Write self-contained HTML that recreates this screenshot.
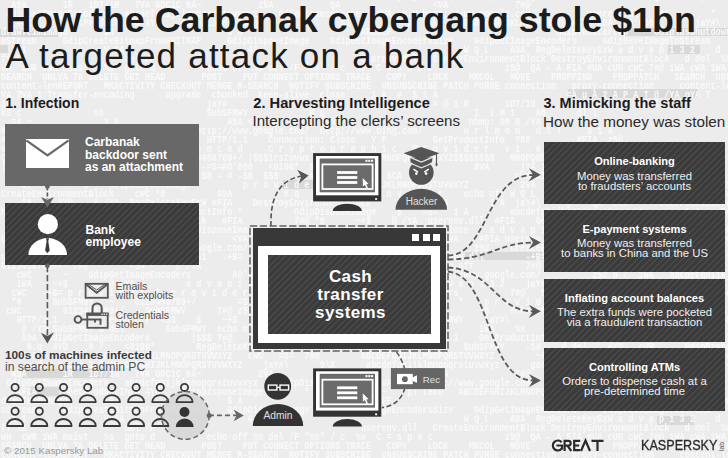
<!DOCTYPE html>
<html><head><meta charset="utf-8">
<style>
*{margin:0;padding:0;box-sizing:border-box}
html,body{width:728px;height:458px;overflow:hidden}
body{position:relative;background:#ececec;font-family:"Liberation Sans",sans-serif;color:#1c1c1c}
.t{position:absolute;white-space:nowrap;line-height:1}
.b{font-weight:bold}
.box{position:absolute}
.mid{background:#686868}
.dark{background-color:#3b3b3b;background-image:repeating-linear-gradient(135deg,#3b3b3b 0,#3b3b3b 3.3px,#494949 3.3px,#494949 4.6px)}
.w{color:#fff}
.c{text-align:center}
#bg{position:absolute;left:0.5px;top:-8.5px;width:1000px;height:480px;font-family:"Liberation Mono",monospace;font-size:10.5px;line-height:9px;color:#f9f9f9;font-weight:bold;white-space:pre;overflow:hidden;transform-origin:0 0;transform:scaleX(0.8159);filter:blur(0.35px)}
svg{position:absolute;left:0;top:0}
</style></head><body>
<div style="position:absolute;left:0px;top:29px;width:59px;height:7.5px;background:#d9d9d9"></div><div style="position:absolute;left:625px;top:28px;width:103px;height:8px;background:#d9d9d9"></div><div style="position:absolute;left:668px;top:44.5px;width:32px;height:9px;background:#d9d9d9"></div><div style="position:absolute;left:0px;top:44.5px;width:8px;height:8px;background:#d9d9d9"></div><div style="position:absolute;left:568px;top:88.5px;width:130px;height:9px;background:#d9d9d9"></div><div style="position:absolute;left:22px;top:369px;width:90px;height:9px;background:#d9d9d9"></div><div style="position:absolute;left:29px;top:387px;width:30px;height:9px;background:#d9d9d9"></div><div style="position:absolute;left:465px;top:252px;width:77px;height:8px;background:#d9d9d9"></div><div style="position:absolute;left:283px;top:180px;width:32px;height:9px;background:#d9d9d9"></div><div style="position:absolute;left:657px;top:416px;width:37px;height:9px;background:#d9d9d9"></div><div id="bg">     a d v a p i 3 2 ABCDEFGHIJKLMNOPQRSTUVWXYZ    jaY#\      9\X      abcdefghijklmnopqrstuvwxyz      goto d    AO&#x27;066  %s  RegDeleteKeyExW +S3      
  A9A       1R   1D7/1H   7VA GDC1C 8A~           2VA           QA                  &lt;VA             7#@                                               
 GdipGetImageEncoders   abcdefghijklmnopqrstuvwxyz    GdipDisposeImage   &lt;VA  8.q http;//www.google.com/          userenv.dll  A9A        *        got
   #FIA      GetProductInfo 4YU    GdipDisposeImage        *      $1      ~    pl tako   ABCDEFGHIJKLMNOPQRSTUVWXYZ A9A  AO&#x27;066        jaY#\    goto d
drawTe1mImagd       1R                      $ A                       ABCDEF                                GdiplusStartup     GdiplusShutdown        
oStream     GdipCreateBitmapFromHBITMAP     GdipDisposeImage    GdipGetImageEncodersSize    GdipGetImageEncoders     GdipSaveImageToStream            
  1 i               V 1A                        4A                                        W Q L    A9A  RegDeleteKeyExW a d v a p i 3 2    d l        
ff %s                   del /F                                        userenv.dll   CreateEnvironmentBlock DestroyEnvironmentBlock   d del  %s        
WH  cWR 1WA msist   %s  goto d          echo off %s del /F &quot;%s&quot; / c  %s  C = s p e c              z5@  QA - A FIA #UA cUR cWC 7#@ 1WA cWA 1WA         
SEARCH  UNLVA 7A DELETE GET HEAD       POST    PUT CONNECT OPTIONS TRACE   COPY    LOCK    MKCOL   MOVE    PROPFIND    PROPPATCH   SEARCH  UNLOCK     
content-lenREPORT   MKACTIVITY CHECKOUT MERGE M-SEARCH  NOTIFY SUBSCRIBE  UNSUBSCRIBE PATCH PURGE connection   proxy-connection     content-length    
VA 7VA 1 Transfer-encoding      upgrade  chunked  keep-alive  close     1 A  #  $ 1 A                         =A u A 2 A P A T @ /YA gYA T            
1R        $ #                           jaY#                          7#@           # @ 1 R       1D7/1H      ?A            1A $                      
kS c              #8                    SubSFMWY            8.q                             I  1 M 1    A8      dl l                                  
  =A ~              1 A                     A9A &lt;VA           2VA                          nbmo: 08 R /YA               1  0A                         
8 h  1  $     A&amp;  =A                  http;//www.google.com/  http;//www.bing.com/        u r l m o n   d l l     $ 1 A                               
# 2  5          $  8                    HTTP/1.1    Connection: Close   Y P         GetProductInfo  ?88         #FIA  z5@                             
0 4  t u                              e n c e d     C r y p t o g r a p h i c   P r o v i d e r   v 1 . 0                                             
QA - A            2VA              0123456789+/ |$$$1rstuvwx  ABCDEFGHIJKLMNOPQRSTUVWXYZ$$$$$$$$   MNOPQRSTUVWXYZ$$$$$$$$$$$$                         
|:8 V                                  -=S=AO&#x27;066   &lt;0100*  B A ~               HB~+        8VA      jYA 1A                                           
  1 *                                  $8 - # -$8  $$8      #FIA        J0 6CA                      cWdIUII\JIX                                       
   -S#          $    GdipDisposeImage          p r o v i d e r   ABCDEFGHIJKLMNOPQRSTUVWXYZ          2VA   0123456789+/ pl tako        $   |$$$ ~+$   
CreateEnvironmentBlock    cWC *8          A9A          8.q    d del    p r o v i d e r    echo off W Q L  *    1 A  8 /    A9A    goto d    RegDeleteK
    *8  ~  4YU    @ /YA  RegDeleteKeyExW #FIA    DestroyEnvironmentBlock          @ /YA        1 A  jaY#\    *8    QA  2VA      GetProductInfo        
http;//www.google.com/    8 /  GetProductInfo *          GdipDisposeImage    $    =S=   1 A        abcdefghijklmnopqrstuvwxyz        1 A    GetProduct
    2VA #FIA   ~  CreateEnvironmentBlock   #FIA          7#@ *8      ~+$    @ /YA  userenv.dll  #FIA    GetProductInfo      $ K          http;//www.go
    http;//www.google.com/        GdipDisposeImage   2VA    9\X    =S=    Connection: Close    a d v a p i 3 2        %s  1 A ABCDEFGHIJKLMNOPQRSTUVWX
goto d    cWC        7#@        9\X          &lt;VA   =S=  http;//www.google.com/    %s  1WA    #FIA userenv.dll    1 A          cWC CreateEnvironmentBlo
  $ K   0123456789+/      http;//www.google.com/          QA   8.q RegDeleteKeyExW          z5@    CreateEnvironmentBlock pl tako  %s  =S=    A9A     
userenv.dll          SubSFMWY      $1 $1   -+B=      z5@  a d v a p i 3 2          userenv.dll        -+B= -S#          jaY#\ |$$$        @ /YA pl tak
0123456789+/  7#@        =S=      @ /YA          $          ~+$  d del 2VA  %s cUR  echo off          7#@ $ K    HTTP/1.1    d del   +S3      W Q L   
   cWC      ~    GdipGetImageEncoders        AO&#x27;066    #FIA        cUR      #FIA   http;//www.google.com/          z5@ 8 /  1WA   abcdefghijklmnopqrst
   1WA    ~+$        @ /YA          a d v a p i 3 2      8 /          A9A  ~+$ 1WA a d v a p i 3 2    jaY#\      2VA C r y p t o   ~          GdipGetI
  cWC   -+B= p r o v i d e r  $  p r o v i d e r      userenv.dll    GdipGetImageEncoders          7#@   8 / +S3          SubSFMWY GdipDisposeImage   
  *8      SubSFMWY   ~    0123456789+/        =S=        http;//www.google.com/          *    p r o v i d e r @ /YA      *      C r y p t o    ABCDEFG
 cWC        0123456789+/    SubSFMWY      7#@ z5@  CreateEnvironmentBlock          QA        *8    echo off #FIA  # GdipDisposeImage      a d v a p i 
   HTTP/1.1          echo off  +S3    $    ~+$   d del    2VA        4YU    2VA   SubSFMWY    jaY#\          GdipGetImageEncoders        SubSFMWY  got
    @ /YA SubSFMWY d del        SubSFMWY  echo off  &lt;0100*   userenv.dll          1 A        1WA    %s          http;//www.google.com/      #         
    A9A  GdipGetImageEncoders        |$$$ 7#@   &lt;0100* CreateEnvironmentBlock    HTTP/1.1    GetProductInfo    A9A      cWC          ABCDEFGHIJKLMNOPQ
     8.q  4YU    8 /    &lt;0100*        RegDeleteKeyExW        p r o v i d e r        9\X   SubSFMWY    -S#    d del    4YU   cUR      GdipDisposeImage 
    A9A    #FIA    ABCDEFGHIJKLMNOPQRSTUVWXYZ   cWC   =S=  7#@        ABCDEFGHIJKLMNOPQRSTUVWXYZ        ~+$        SubSFMWY   GdipGetImageEncoders    
     a d v a p i 3 2 ABCDEFGHIJKLMNOPQRSTUVWXYZ    jaY#\      9\X      abcdefghijklmnopqrstuvwxyz      goto d    AO&#x27;066  %s  RegDeleteKeyExW +S3      
  A9A       1R   1D7/1H   7VA GDC1C 8A~           2VA           QA                  &lt;VA             7#@                                               
 GdipGetImageEncoders   abcdefghijklmnopqrstuvwxyz    GdipDisposeImage   &lt;VA  8.q http;//www.google.com/          userenv.dll  A9A        *        got
   #FIA      GetProductInfo 4YU    GdipDisposeImage        *      $1      ~    pl tako   ABCDEFGHIJKLMNOPQRSTUVWXYZ A9A  AO&#x27;066        jaY#\    goto d
drawTe1mImagd       1R                      $ A                       ABCDEF                                GdiplusStartup     GdiplusShutdown        
oStream     GdipCreateBitmapFromHBITMAP     GdipDisposeImage    GdipGetImageEncodersSize    GdipGetImageEncoders     GdipSaveImageToStream            
  1 i               V 1A                        4A                                        W Q L    A9A  RegDeleteKeyExW a d v a p i 3 2    d l        
ff %s                   del /F                                        userenv.dll   CreateEnvironmentBlock DestroyEnvironmentBlock   d del  %s        
WH  cWR 1WA msist   %s  goto d          echo off %s del /F &quot;%s&quot; / c  %s  C = s p e c              z5@  QA - A FIA #UA cUR cWC 7#@ 1WA cWA 1WA         
SEARCH  UNLVA 7A DELETE GET HEAD       POST    PUT CONNECT OPTIONS TRACE   COPY    LOCK    MKCOL   MOVE    PROPFIND    PROPPATCH   SEARCH  UNLOCK     
content-lenREPORT   MKACTIVITY CHECKOUT MERGE M-SEARCH  NOTIFY SUBSCRIBE  UNSUBSCRIBE PATCH PURGE connection   proxy-connection     content-length    
VA 7VA 1 Transfer-encoding      upgrade  chunked  keep-alive  close     1 A  #  $ 1 A                         =A u A 2 A P A T @ /YA gYA T            </div>

<div class="t b" style="left:5.5px;top:3.3px;font-size:35.8px;color:#1c1c1c">How the Carbanak cybergang stole $1bn</div>
<div class="t" style="left:5.5px;top:38.1px;font-size:35px;letter-spacing:1.22px;color:#1c1c1c">A targeted attack on a bank</div>

<div class="t b" style="left:5.3px;top:96px;font-size:14px">1. Infection</div>
<div class="t b" style="left:253.3px;top:96.3px;font-size:14.65px">2. Harvesting Intelligence</div>
<div class="t" style="left:252.5px;top:113px;font-size:15.1px;color:#2a2a2a">Intercepting the clerks’ screens</div>
<div class="t b" style="left:543.5px;top:96px;font-size:14.5px">3. Mimicking the staff</div>
<div class="t" style="left:543px;top:114px;font-size:15.25px;color:#2a2a2a">How the money was stolen</div>

<div class="box mid" style="left:5px;top:124px;width:194px;height:62px"></div>
<div class="box dark" style="left:5px;top:203px;width:194px;height:62px"></div>

<div class="box dark" style="left:544px;top:142px;width:181px;height:62px"></div>
<div class="box dark" style="left:544px;top:210px;width:181px;height:62px"></div>
<div class="box dark" style="left:544px;top:279px;width:181px;height:63px"></div>
<div class="box dark" style="left:544px;top:348px;width:181px;height:63px"></div>

<div class="box" style="left:252.8px;top:227.8px;width:193.2px;height:120.8px;background:#383838"></div>
<div class="box" style="left:258.4px;top:245.6px;width:181.8px;height:97.4px;background:#fff"></div>
<div class="box dark" style="left:267.7px;top:254.8px;width:163.3px;height:79px"></div>
<div class="box" style="left:412px;top:234px;width:7px;height:6.5px;background:#fff"></div>
<div class="box" style="left:422.5px;top:234px;width:7px;height:6.5px;background:#fff"></div>
<div class="box" style="left:433px;top:234px;width:7px;height:6.5px;background:#fff"></div>

<svg width="728" height="458" viewBox="0 0 728 458"><rect x="26" y="139" width="43" height="29" fill="#fff"/><polyline points="26.3,140.3 47.5,155.3 68.7,140.3" fill="none" stroke="#686868" stroke-width="2.2"/><line x1="47.4" y1="186.6" x2="47.4" y2="199" stroke="#5a5a5a" stroke-width="1.6" stroke-dasharray="4 2"/><circle cx="47.4" cy="186.6" r="2.4" fill="#666"/><path d="M47.4,207.5 L41.1,197 L47.4,199.7 L53.9,197 Z" fill="#666"/><circle cx="47.85" cy="224.2" r="10.1" fill="#fff"/><path d="M28.4,255 A19.3,16.9 0 0 1 67,255 Z" fill="#fff"/><path d="M46.1,238.3 L49,238.3 L48.3,241.2 L49.7,250.4 L47.4,253.2 L45.1,250.4 L46.6,241.2 Z" fill="#3b3b3b"/><line x1="47.4" y1="266" x2="47.4" y2="336" stroke="#5a5a5a" stroke-width="1.6" stroke-dasharray="6.2 2.8"/><circle cx="47.4" cy="265.8" r="2.4" fill="#666"/><path d="M47.4,343.6 L40.9,332.7 L47.4,336 L54,332.2 Z" fill="#555"/><rect x="85.6" y="283.8" width="22.2" height="14" fill="none" stroke="#555" stroke-width="1.8"/><polyline points="85.8,284.2 96.7,292.8 107.6,284.2" fill="none" stroke="#555" stroke-width="1.8"/><polyline points="88,284 96.7,290 105.4,284" fill="none" stroke="#555" stroke-width="1"/><path d="M92.5,313 L92.5,308 A4.6,4.6 0 0 1 101.7,308 L101.7,313" fill="none" stroke="#555" stroke-width="2"/><rect x="87.3" y="313.6" width="20.4" height="14.2" fill="none" stroke="#555" stroke-width="1.8"/><rect x="86.4" y="312.7" width="22.2" height="3.2" fill="#555"/><rect x="101.2" y="313.6" width="1.5" height="1.4" fill="#ddd"/><rect x="103.5" y="313.6" width="1.5" height="1.4" fill="#ddd"/><rect x="105.8" y="313.6" width="1.5" height="1.4" fill="#ddd"/><circle cx="78" cy="319.5" r="3.4" fill="none" stroke="#555" stroke-width="1.9"/><line x1="81.3" y1="319.5" x2="101.5" y2="319.5" stroke="#555" stroke-width="1.9"/><line x1="100.5" y1="319.5" x2="100.5" y2="324.8" stroke="#555" stroke-width="1.9"/><line x1="95" y1="319.5" x2="95" y2="322.5" stroke="#555" stroke-width="1.9"/><circle cx="185.3" cy="415.4" r="23.9" fill="#d6d6d6" fill-opacity="0.85"/><circle cx="15.1" cy="387.4" r="3.6" fill="none" stroke="#3a3a3a" stroke-width="1.8"/><path d="M7.0,402.09999999999997 A8.1,7 0 0 1 23.2,402.09999999999997 Z" fill="none" stroke="#3a3a3a" stroke-width="1.8" stroke-linejoin="round"/><circle cx="39.3" cy="387.4" r="3.6" fill="none" stroke="#3a3a3a" stroke-width="1.8"/><path d="M31.199999999999996,402.09999999999997 A8.1,7 0 0 1 47.4,402.09999999999997 Z" fill="none" stroke="#3a3a3a" stroke-width="1.8" stroke-linejoin="round"/><circle cx="63.5" cy="387.4" r="3.6" fill="none" stroke="#3a3a3a" stroke-width="1.8"/><path d="M55.4,402.09999999999997 A8.1,7 0 0 1 71.6,402.09999999999997 Z" fill="none" stroke="#3a3a3a" stroke-width="1.8" stroke-linejoin="round"/><circle cx="87.7" cy="387.4" r="3.6" fill="none" stroke="#3a3a3a" stroke-width="1.8"/><path d="M79.60000000000001,402.09999999999997 A8.1,7 0 0 1 95.8,402.09999999999997 Z" fill="none" stroke="#3a3a3a" stroke-width="1.8" stroke-linejoin="round"/><circle cx="111.9" cy="387.4" r="3.6" fill="none" stroke="#3a3a3a" stroke-width="1.8"/><path d="M103.80000000000001,402.09999999999997 A8.1,7 0 0 1 120.0,402.09999999999997 Z" fill="none" stroke="#3a3a3a" stroke-width="1.8" stroke-linejoin="round"/><circle cx="136.1" cy="387.4" r="3.6" fill="none" stroke="#3a3a3a" stroke-width="1.8"/><path d="M128.0,402.09999999999997 A8.1,7 0 0 1 144.2,402.09999999999997 Z" fill="none" stroke="#3a3a3a" stroke-width="1.8" stroke-linejoin="round"/><circle cx="160.3" cy="387.4" r="3.6" fill="none" stroke="#3a3a3a" stroke-width="1.8"/><path d="M152.20000000000002,402.09999999999997 A8.1,7 0 0 1 168.4,402.09999999999997 Z" fill="none" stroke="#3a3a3a" stroke-width="1.8" stroke-linejoin="round"/><circle cx="184.5" cy="387.4" r="3.6" fill="none" stroke="#3a3a3a" stroke-width="1.8"/><path d="M176.4,402.09999999999997 A8.1,7 0 0 1 192.6,402.09999999999997 Z" fill="none" stroke="#3a3a3a" stroke-width="1.8" stroke-linejoin="round"/><circle cx="15.1" cy="411.3" r="3.6" fill="none" stroke="#3a3a3a" stroke-width="1.8"/><path d="M7.0,426.0 A8.1,7 0 0 1 23.2,426.0 Z" fill="none" stroke="#3a3a3a" stroke-width="1.8" stroke-linejoin="round"/><circle cx="39.3" cy="411.3" r="3.6" fill="none" stroke="#3a3a3a" stroke-width="1.8"/><path d="M31.199999999999996,426.0 A8.1,7 0 0 1 47.4,426.0 Z" fill="none" stroke="#3a3a3a" stroke-width="1.8" stroke-linejoin="round"/><circle cx="63.5" cy="411.3" r="3.6" fill="none" stroke="#3a3a3a" stroke-width="1.8"/><path d="M55.4,426.0 A8.1,7 0 0 1 71.6,426.0 Z" fill="none" stroke="#3a3a3a" stroke-width="1.8" stroke-linejoin="round"/><circle cx="87.7" cy="411.3" r="3.6" fill="none" stroke="#3a3a3a" stroke-width="1.8"/><path d="M79.60000000000001,426.0 A8.1,7 0 0 1 95.8,426.0 Z" fill="none" stroke="#3a3a3a" stroke-width="1.8" stroke-linejoin="round"/><circle cx="111.9" cy="411.3" r="3.6" fill="none" stroke="#3a3a3a" stroke-width="1.8"/><path d="M103.80000000000001,426.0 A8.1,7 0 0 1 120.0,426.0 Z" fill="none" stroke="#3a3a3a" stroke-width="1.8" stroke-linejoin="round"/><circle cx="136.1" cy="411.3" r="3.6" fill="none" stroke="#3a3a3a" stroke-width="1.8"/><path d="M128.0,426.0 A8.1,7 0 0 1 144.2,426.0 Z" fill="none" stroke="#3a3a3a" stroke-width="1.8" stroke-linejoin="round"/><circle cx="160.3" cy="411.3" r="3.6" fill="none" stroke="#3a3a3a" stroke-width="1.8"/><path d="M152.20000000000002,426.0 A8.1,7 0 0 1 168.4,426.0 Z" fill="none" stroke="#3a3a3a" stroke-width="1.8" stroke-linejoin="round"/><circle cx="185.3" cy="415.4" r="23.9" fill="none" stroke="#666" stroke-width="1.5" stroke-dasharray="5 3"/><circle cx="184.5" cy="412" r="5" fill="#333"/><path d="M175.8,427 A8.9,8.6 0 0 1 193.6,427 Z" fill="#333"/><line x1="209" y1="415.4" x2="237" y2="415.4" stroke="#666" stroke-width="1.6" stroke-dasharray="5 3"/><circle cx="209.2" cy="415.4" r="2.5" fill="#666"/><path d="M243.8,415.4 L233.6,409.6 L236.6,415.4 L233.6,421.2 Z" fill="#666"/><circle cx="277.7" cy="386.3" r="13.4" fill="#333"/><rect x="268.3" y="385.1" width="8.6" height="4.9" fill="none" stroke="#fff" stroke-width="1.4"/><rect x="280" y="385.1" width="8.6" height="4.9" fill="none" stroke="#fff" stroke-width="1.4"/><line x1="276.9" y1="387.4" x2="280" y2="387.4" stroke="#fff" stroke-width="1.2"/><path d="M252.8,426 A25.2,22 0 0 1 303.2,426 Z" fill="#333"/><circle cx="421.3" cy="172.5" r="12.3" fill="#555"/><path d="M410.3,157.4 L432.4,157.4 L432,162.2 L421.3,166.8 L410.6,162.2 Z" fill="#555"/><path d="M410.3,157.4 L421.3,162 L432.4,157.4" fill="none" stroke="#e6e6e6" stroke-width="1.2"/><path d="M410.4,163.2 L421.3,167.8 L432.2,163.2" fill="none" stroke="#e6e6e6" stroke-width="1.2"/><path d="M403.6,153.3 L421.1,146.9 L439.5,153.3 L421.1,159.9 Z" fill="#555"/><line x1="436.5" y1="153.6" x2="436.5" y2="164.5" stroke="#555" stroke-width="1.1"/><ellipse cx="436.5" cy="164.5" rx="1" ry="1.7" fill="#555"/><path d="M413.4,169.2 L418,172.2 M428.8,169.2 L424.2,172.2" stroke="#fff" stroke-width="1.4"/><circle cx="416.3" cy="173.6" r="1.3" fill="#fff"/><circle cx="426.1" cy="173.6" r="1.3" fill="#fff"/><path d="M395.5,209.8 A25.75,21 0 0 1 447,209.8 Z" fill="#555"/><rect x="313.1" y="153.1" width="68.2" height="48.3" fill="#333"/><rect x="316.0" y="156.0" width="62.4" height="39.3" fill="#fff"/><rect x="319.70000000000005" y="158.5" width="55.3" height="33.8" fill="#6b6b6b"/><rect x="322.40000000000003" y="164.4" width="50.2" height="24.6" fill="none" stroke="#fff" stroke-width="1.8"/><rect x="365.5" y="159.79999999999998" width="2" height="2" fill="#fff"/><rect x="368.3" y="159.79999999999998" width="2" height="2" fill="#fff"/><rect x="371.1" y="159.79999999999998" width="2" height="2" fill="#fff"/><rect x="337.1" y="171.1" width="20.2" height="2.8" fill="#fff"/><rect x="337.1" y="176.1" width="20.2" height="2.8" fill="#fff"/><rect x="337.1" y="181.1" width="20.2" height="2.8" fill="#fff"/><path d="M362.70000000000005,177.9 L362.90000000000003,186.5 L364.8,184.7 L366.6,188.7 L368.0,188.1 L366.3,184.2 L368.6,184.0 Z" fill="#fff"/><circle cx="376.1" cy="199.0" r="1.1" fill="#fff"/><path d="M332.70000000000005,211.1 A14.6,7.4 0 0 1 361.90000000000003,211.1 Z" fill="#333"/><rect x="313.1" y="368.4" width="68.2" height="48.3" fill="#333"/><rect x="316.0" y="371.29999999999995" width="62.4" height="39.3" fill="#fff"/><rect x="319.70000000000005" y="373.79999999999995" width="55.3" height="33.8" fill="#6b6b6b"/><rect x="322.40000000000003" y="379.7" width="50.2" height="24.6" fill="none" stroke="#fff" stroke-width="1.8"/><rect x="365.5" y="375.09999999999997" width="2" height="2" fill="#fff"/><rect x="368.3" y="375.09999999999997" width="2" height="2" fill="#fff"/><rect x="371.1" y="375.09999999999997" width="2" height="2" fill="#fff"/><rect x="337.1" y="386.4" width="20.2" height="2.8" fill="#fff"/><rect x="337.1" y="391.4" width="20.2" height="2.8" fill="#fff"/><rect x="337.1" y="396.4" width="20.2" height="2.8" fill="#fff"/><path d="M362.70000000000005,393.2 L362.90000000000003,401.79999999999995 L364.8,400.0 L366.6,404.0 L368.0,403.4 L366.3,399.5 L368.6,399.29999999999995 Z" fill="#fff"/><circle cx="376.1" cy="414.29999999999995" r="1.1" fill="#fff"/><path d="M332.70000000000005,426.4 A14.6,7.4 0 0 1 361.90000000000003,426.4 Z" fill="#333"/><rect x="250" y="226" width="198" height="125" fill="none" stroke="#606060" stroke-width="1.5" stroke-dasharray="7.2 2.6"/><path d="M271,226 C270,200 278,180 301,176.3" fill="none" stroke="#555" stroke-width="1.6" stroke-dasharray="5 2.6"/><path d="M308.6,175.6 L297.2,169.8 L301.2,176.6 L299,183.4 Z" fill="#555"/><path d="M396.4,351.9 C404,362 406,372 405.8,380 C405.6,392 400,405 382,407.7" fill="none" stroke="#555" stroke-width="1.5" stroke-dasharray="5 2.6"/><rect x="390.9" y="368.1" width="54" height="21" fill="#666"/><rect x="397" y="373.9" width="15.8" height="10.3" fill="#fff"/><circle cx="404.9" cy="379.2" r="2.9" fill="#666"/><path d="M412.5,377.5 L417,375.3 L417,382.8 L412.5,381 Z" fill="#fff"/><path d="M448,255.5 C488,255 486,175.5 533,175" fill="none" stroke="#5a5a5a" stroke-width="1.8" stroke-dasharray="5.2 2.8"/><path d="M448,259.5 C490,259 498,243 533,242.5" fill="none" stroke="#5a5a5a" stroke-width="1.8" stroke-dasharray="5.2 2.8"/><path d="M448,267.5 C492,270 496,311 533,311.3" fill="none" stroke="#5a5a5a" stroke-width="1.8" stroke-dasharray="5.2 2.8"/><path d="M448,271.5 C492,276 486,380 533,380.5" fill="none" stroke="#5a5a5a" stroke-width="1.8" stroke-dasharray="5.2 2.8"/><path d="M540.9,174.8 L528.9,168.20000000000002 L533.1,174.8 L528.6999999999999,181.60000000000002 Z" fill="#5a5a5a"/><path d="M540.9,242.5 L528.9,235.9 L533.1,242.5 L528.6999999999999,249.3 Z" fill="#5a5a5a"/><path d="M540.9,311.3 L528.9,304.7 L533.1,311.3 L528.6999999999999,318.1 Z" fill="#5a5a5a"/><path d="M540.9,380.5 L528.9,373.9 L533.1,380.5 L528.6999999999999,387.3 Z" fill="#5a5a5a"/><g fill="none" stroke="#2a2a2a" stroke-width="2.2"><path d="M561.6,442.2 A5,5 0 1 0 561.6,448.8"/><path d="M556.4,445.5 L562,445.5 L562,449.6"/><path d="M564.6,451 L564.6,440.9 L568.3,440.9 A2.35,2.35 0 0 1 568.3,445.6 L564.6,445.6 M567.4,445.6 L571.3,451"/><path d="M580.2,440.9 L574.2,440.9 L574.2,450.1 L580.2,450.1 M574.2,445.5 L579.2,445.5"/><path d="M581,451 L585.5,440.6 L590,451"/><path d="M591.5,440.9 L603.5,440.9 M597.5,440.9 L597.5,451"/></g></svg>

<div class="t b w" style="left:85px;top:136.4px;font-size:12px;line-height:12.2px">Carbanak<br>backdoor sent<br>as an attachment</div>
<div class="t b w" style="left:85.5px;top:224px;font-size:12px;line-height:12px">Bank<br>employee</div>
<div class="t" style="left:115.5px;top:281.7px;font-size:10.6px;line-height:9.5px;color:#505050">Emails<br>with exploits</div>
<div class="t" style="left:115.5px;top:310.8px;font-size:10.6px;line-height:9.5px;color:#505050">Credentials<br>stolen</div>
<div class="t b" style="left:5px;top:350.3px;font-size:11.8px;color:#3a3a3a">100s of machines infected</div>
<div class="t" style="left:5px;top:360.8px;font-size:12.2px;color:#505050">in search of the admin PC</div>

<div class="t b w c" style="left:268.5px;top:268.2px;width:164px;font-size:17px;line-height:18px;letter-spacing:0.4px">Cash<br>transfer<br>systems</div>

<div class="t c" style="left:395px;top:196.8px;width:53px;font-size:10px;color:#e0e0e0">Hacker</div>
<div class="t c" style="left:252px;top:411px;width:52px;font-size:10.3px;color:#e0e0e0">Admin</div>
<div class="t" style="left:422.8px;top:375.2px;font-size:9.7px;color:#e0e0e0">Rec</div>

<div class="t c w b" style="left:544px;top:156.4px;width:181px;font-size:11.1px">Online-banking</div>
<div class="t c w" style="left:544px;top:170.7px;width:181px;font-size:11.3px;line-height:10.3px;color:#f0f0f0">Money was transferred<br>to fraudsters’ accounts</div>
<div class="t c w b" style="left:544px;top:224px;width:181px;font-size:11.1px">E-payment systems</div>
<div class="t c w" style="left:544px;top:238px;width:181px;font-size:11.3px;line-height:10.3px;color:#f0f0f0">Money was transferred<br>to banks in China and the US</div>
<div class="t c w b" style="left:544px;top:293.2px;width:181px;font-size:11.1px">Inflating account balances</div>
<div class="t c w" style="left:544px;top:307.2px;width:181px;font-size:11.3px;line-height:10.3px;color:#f0f0f0">The extra funds were pocketed<br>via a fraudulent transaction</div>
<div class="t c w b" style="left:544px;top:361.6px;width:181px;font-size:11.1px">Controlling ATMs</div>
<div class="t c w" style="left:544px;top:376px;width:181px;font-size:11.3px;line-height:10.3px;color:#f0f0f0">Orders to dispense cash at a<br>pre-determined time</div>

<div class="t" style="left:641px;top:438px;font-size:14.5px;color:#2a2a2a;-webkit-text-stroke:0.3px #2a2a2a;transform-origin:0 0;transform:scaleX(0.87)">KASPERSKY</div>
<div class="t" style="left:718.8px;top:450.5px;font-size:6.6px;color:#555;transform-origin:0 0;transform:rotate(-90deg)">lab</div>
<div class="t" style="left:4px;top:446px;font-size:9.8px;color:#9a9a9a">© 2015 Kaspersky Lab</div>
</body></html>
